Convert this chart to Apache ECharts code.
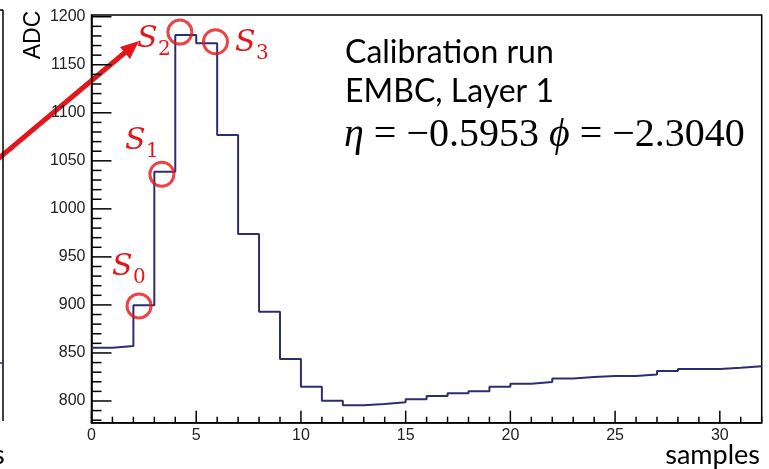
<!DOCTYPE html>
<html>
<head>
<meta charset="utf-8">
<script src="https://cdn.jsdelivr.net/npm/echarts@6/dist/echarts.min.js"></script>
<style>html,body{margin:0;padding:0;background:#fff;}#c{width:769px;height:469px;}</style>
</head>
<body>
<div id="c"></div>
<script>
// ADC value of each sample bin (bin i spans [i, i+1))
var adcValues = [855.5, 857.2, 899.6, 1038.7, 1180.9, 1172.3, 1076.9, 973.8, 892.9, 843.7,
  814.9, 800.3, 795.5, 796.9, 798.6, 801.7, 805.2, 808.0, 810.1, 814.9,
  818.0, 819.8, 823.3, 825.0, 826.0, 826.0, 827.7, 831.2, 833.3, 833.3,
  834.6, 836.1];
var xMajorTicks = [0, 5, 10, 15, 20, 25, 30];
var yMajorTicks = [800, 850, 900, 950, 1000, 1050, 1100, 1150, 1200];
// highlighted samples S0..S3 (circle positions in data units)
var sampleNames = ['S0', 'S1', 'S2', 'S3'];
var sampleMarks = [[2.27, 899], [3.36, 1036], [4.22, 1184], [5.92, 1174]];
var infoLines = ['Calibration run', 'EMBC, Layer 1'];
var etaText = '−0.5953', phiText = '−2.3040';

var X_MIN = 0, X_MAX = 32, Y_MIN = 777.4, Y_MAX = 1201.8;

var stepData = adcValues.map(function (v, i) { return [i, v]; });
stepData.push([adcValues.length, adcValues[adcValues.length - 1]]);

// tick marks (ROOT style, inside the frame)
var tickList = [];
for (var i = 0; i <= X_MAX; i++) tickList.push({v: i, kind: 'x', len: xMajorTicks.indexOf(i) >= 0 ? 12 : 6});
for (var v = 780; v <= 1200; v += 10) tickList.push({v: v, kind: 'y', len: yMajorTicks.indexOf(v) >= 0 ? 20 : 10});
var tickData = tickList.map(function (t) { return t.kind === 'x' ? [t.v, Y_MIN] : [X_MIN, t.v]; });

var RED = '#e3161b';
var NAVY = '#2e2d6e';
var labelFont = 'Liberation Sans, Arial, sans-serif';

var chart = echarts.init(document.getElementById('c'), null, {renderer: 'canvas'});

function sLabel(name, x, y) {
  return {type: 'group', children: [
    {type: 'text', x: x, y: y, style: {text: 'S', font: 'italic 30px DejaVu Serif', fill: RED, verticalAlign: 'middle'}},
    {type: 'text', x: x + 21, y: y + 11, style: {text: name.substring(1), font: '20px DejaVu Serif', fill: RED, verticalAlign: 'middle'}}
  ]};
}

var decorations = [
  // info box
  {type: 'text', x: 345, y: 53, style: {text: infoLines[0], font: '32px Lato', fill: '#000', verticalAlign: 'middle'}},
  {type: 'text', x: 345, y: 92, style: {text: infoLines[1], font: '32px Lato', fill: '#000', verticalAlign: 'middle'}},
  {type: 'text', x: 344, y: 135, style: {
    text: '{i|η} = ' + etaText + ' {i|ϕ} = ' + phiText,
    font: '40px Liberation Serif', fill: '#000', verticalAlign: 'middle',
    rich: {i: {fontFamily: 'Liberation Serif', fontStyle: 'italic', fontSize: 40, fill: '#000'}}
  }},
  // axis titles
  {type: 'text', x: 34, y: 35, rotation: Math.PI / 2, style: {text: 'ADC', font: '23px Liberation Sans', fill: '#000', align: 'center', verticalAlign: 'middle'}},
  {type: 'text', x: 760, y: 455, style: {text: 'samples', font: '27px Lato', fill: '#000', align: 'right', verticalAlign: 'middle'}},
  // sample labels
  sLabel(sampleNames[2], 137, 39),
  sLabel(sampleNames[3], 235, 43),
  sLabel(sampleNames[1], 125, 141),
  sLabel(sampleNames[0], 112, 267),
  // red arrow
  {type: 'line', shape: {x1: -2, y1: 159, x2: 128, y2: 50}, style: {stroke: RED, lineWidth: 5}},
  {type: 'polygon', shape: {points: [[139, 41], [120, 47], [130, 59]]}, style: {fill: RED}},
  // neighbouring panel remnants
  {type: 'line', shape: {x1: 3, y1: 10, x2: 3, y2: 421}, style: {stroke: '#000', lineWidth: 1.5}},
  {type: 'line', shape: {x1: 0, y1: 10, x2: 3, y2: 10}, style: {stroke: '#000', lineWidth: 1.5}},
  {type: 'line', shape: {x1: 0, y1: 363, x2: 3, y2: 363}, style: {stroke: NAVY, lineWidth: 1.5}},
  {type: 'text', x: -7, y: 455, style: {text: 's', font: '27px Lato', fill: '#000', verticalAlign: 'middle'}}
];

chart.setOption({
  animation: false,
  grid: {left: 91.5, right: 7.3, top: 15, bottom: 46.3, show: true, borderColor: '#000', borderWidth: 1.5, backgroundColor: 'transparent'},
  xAxis: {
    type: 'value', min: X_MIN, max: X_MAX, interval: 5,
    axisLine: {show: true, onZero: false, lineStyle: {color: '#000', width: 1.5}},
    axisTick: {show: false},
    axisLabel: {show: true, margin: 6, fontFamily: labelFont, fontSize: 16, color: '#222', showMaxLabel: false,
      formatter: function (v) { return ''; }},
    splitLine: {show: false}
  },
  yAxis: {
    type: 'value', min: Y_MIN, max: Y_MAX, interval: 50,
    axisLine: {show: true, onZero: false, lineStyle: {color: '#000', width: 1.5}},
    axisTick: {show: false},
    axisLabel: {show: true, margin: 6, fontFamily: labelFont, fontSize: 16, color: '#222', showMinLabel: false, showMaxLabel: false,
      formatter: function (v) { return ''; }},
    splitLine: {show: false}
  },
  series: [{
    type: 'custom', clip: false, silent: true, z: 5,
    data: tickData,
    renderItem: function (params, api) {
      var t = tickList[params.dataIndex];
      var p, shape;
      if (t.kind === 'x') {
        p = api.coord([t.v, Y_MIN]);
        shape = {x1: p[0], y1: p[1], x2: p[0], y2: p[1] - t.len};
      } else {
        p = api.coord([X_MIN, t.v]);
        shape = {x1: p[0], y1: p[1], x2: p[0] + t.len, y2: p[1]};
      }
      return {type: 'line', shape: shape, style: {stroke: '#000', lineWidth: 1.5}};
    }
  }, {
    type: 'line', step: 'end', data: stepData, symbol: 'none',
    lineStyle: {color: NAVY, width: 2}, z: 3
  }, {
    type: 'scatter', data: sampleMarks, symbol: 'circle', symbolSize: 24,
    itemStyle: {color: 'rgba(0,0,0,0)', borderColor: RED, borderWidth: 3}, z: 4
  }],
  graphic: decorations
});

// tick labels, placed through the axes' own scales
var tickLabels = [];
xMajorTicks.forEach(function (xv) {
  var p = chart.convertToPixel({gridIndex: 0}, [xv, Y_MIN]);
  tickLabels.push({type: 'text', x: p[0], y: p[1] + 5, silent: true,
    style: {text: String(xv), font: '16px Liberation Sans', fill: '#222', align: 'center', verticalAlign: 'top'}});
});
yMajorTicks.forEach(function (yv) {
  var p = chart.convertToPixel({gridIndex: 0}, [X_MIN, yv]);
  tickLabels.push({type: 'text', x: p[0] - 6, y: p[1], silent: true,
    style: {text: String(yv), font: '16px Liberation Sans', fill: '#222', align: 'right', verticalAlign: 'middle'}});
});
chart.setOption({graphic: decorations.concat(tickLabels)});
</script>
</body>
</html>
